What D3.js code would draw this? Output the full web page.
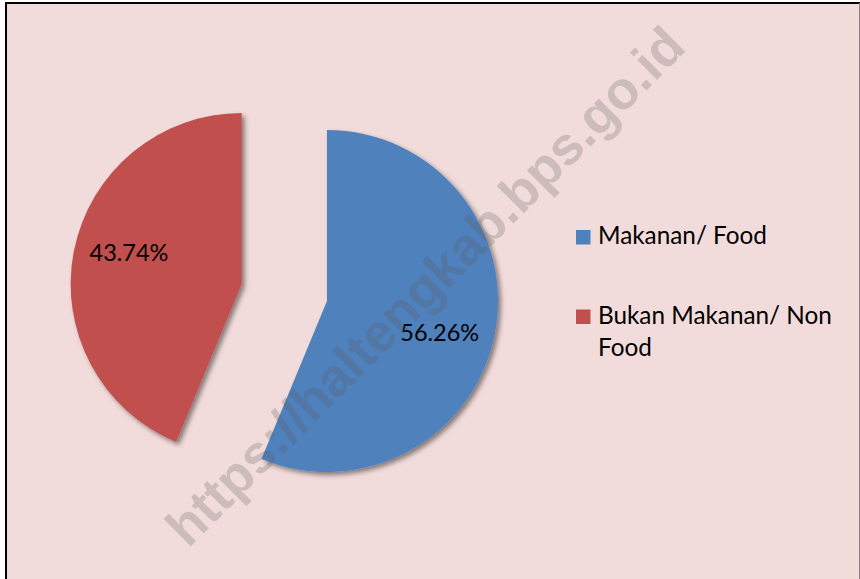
<!DOCTYPE html>
<html>
<head>
<meta charset="utf-8">
<script src="https://cdn.jsdelivr.net/npm/d3@7"></script>
<style>
  body { margin: 0; background: #fff; }
  svg { display: block; }
</style>
</head>
<body>
<div id="chart"></div>
<script>
// chart data
var categories = ["Makanan/ Food", "Bukan Makanan/ Non Food"];
var shares = [56.26, 43.74];
var colors = ["#4F81BD", "#C0504D"];
var legendLines = [["Makanan/ Food"], ["Bukan Makanan/ Non", "Food"]];
var exploded = [0, 1];

var svgWidth = 860;
var svgHeight = 579;

var svg = d3.select("#chart")
  .append("svg")
  .attr("width", svgWidth)
  .attr("height", svgHeight);

// soft drop shadow like the office chart
var defs = svg.append("defs");
var shadow = defs.append("filter")
  .attr("id", "shadow")
  .attr("x", "-20%").attr("y", "-20%")
  .attr("width", "140%").attr("height", "140%");
shadow.append("feDropShadow")
  .attr("dx", 3)
  .attr("dy", 3)
  .attr("stdDeviation", 2.5)
  .attr("flood-color", "#000")
  .attr("flood-opacity", 0.45);

// chart area background + border
svg.append("rect")
  .attr("x", 6).attr("y", 3)
  .attr("width", 853).attr("height", 600)
  .attr("fill", "#F2DCDB");
svg.append("line")
  .attr("x1", 5).attr("x2", 860).attr("y1", 3).attr("y2", 3)
  .attr("stroke", "#000").attr("stroke-width", 2);
svg.append("line")
  .attr("x1", 6).attr("x2", 6).attr("y1", 2).attr("y2", 579)
  .attr("stroke", "#000").attr("stroke-width", 2);
svg.append("line")
  .attr("x1", 859.5).attr("x2", 859.5).attr("y1", 3).attr("y2", 579)
  .attr("stroke", "#8c8080").attr("stroke-width", 1);

// pie
var cx = 327, cy = 301, radius = 171, explode = 87;

var pie = d3.pie().sort(null).value(d => d);
var arcs = pie(shares);

var arc = d3.arc().innerRadius(0).outerRadius(radius);

function midAngle(d) {
  return (d.startAngle + d.endAngle) / 2;
}

var pieGroup = svg.append("g")
  .attr("transform", `translate(${cx}, ${cy})`);

var slices = pieGroup.selectAll("g.slice")
  .data(arcs)
  .enter()
  .append("g")
  .attr("class", "slice")
  .attr("transform", function(d, i) {
    var a = midAngle(d);
    var off = exploded[i] * explode;
    return `translate(${off * Math.sin(a)}, ${-off * Math.cos(a)})`;
  });

slices.append("path")
  .attr("d", arc)
  .attr("fill", (d, i) => colors[i])
  .attr("filter", "url(#shadow)");

// watermark
svg.append("text")
  .attr("transform", "translate(438, 299) rotate(-45)")
  .attr("text-anchor", "middle")
  .attr("font-family", "'Liberation Sans', Arial, sans-serif")
  .attr("font-weight", "bold")
  .attr("font-size", 53)
  .attr("fill", "#5a5a5a")
  .attr("fill-opacity", 0.25)
  .text("https://haltengkab.bps.go.id");

// data labels
var labelFont = "Lato, 'Open Sans', sans-serif";
var labelR = radius * 0.685;
var labelShift = 4.5 * Math.PI / 180;

slices.append("text")
  .attr("x", d => labelR * Math.sin(midAngle(d) + labelShift))
  .attr("y", d => -labelR * Math.cos(midAngle(d) + labelShift) + 8.5)
  .attr("text-anchor", "middle")
  .attr("font-family", labelFont)
  .attr("font-size", 23.5)
  .attr("fill", "#000")
  .text(d => d.data.toFixed(2) + "%");

// legend
var legend = svg.append("g")
  .attr("transform", "translate(576, 230)");

var legendItems = legend.selectAll("g")
  .data(categories)
  .enter()
  .append("g")
  .attr("transform", (d, i) => `translate(0, ${i * 79.5})`);

legendItems.append("rect")
  .attr("width", 14.5)
  .attr("height", 14.5)
  .attr("fill", (d, i) => colors[i]);

legendItems.append("text")
  .attr("x", 22)
  .attr("y", 14)
  .attr("font-family", labelFont)
  .attr("font-size", 24.3)
  .attr("fill", "#000")
  .selectAll("tspan")
  .data((d, i) => legendLines[i])
  .enter()
  .append("tspan")
  .attr("x", 22)
  .attr("dy", (d, j) => j === 0 ? 0 : 32.5)
  .text(d => d);
</script>
</body>
</html>
